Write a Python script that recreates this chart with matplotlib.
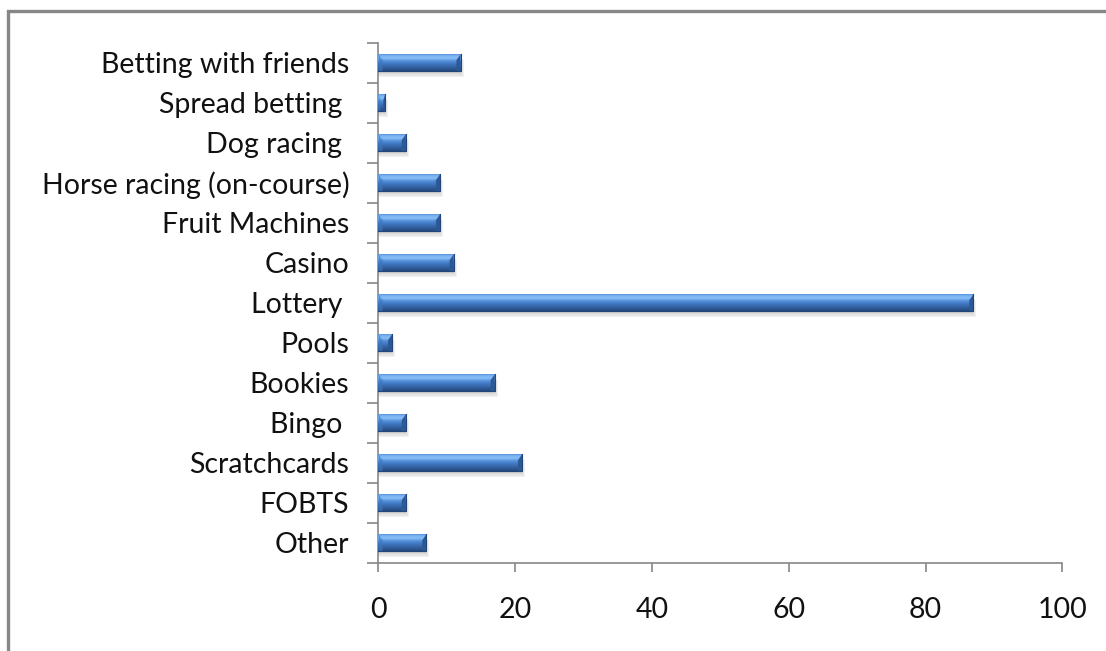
import numpy as np
import matplotlib
matplotlib.use("Agg")
import matplotlib.pyplot as plt
from matplotlib.colors import LinearSegmentedColormap
from matplotlib.patches import Rectangle, Polygon

plt.rcParams['font.family'] = ['Lato', 'DejaVu Sans']

categories = ["Betting with friends", "Spread betting ", "Dog racing ",
              "Horse racing (on-course)", "Fruit Machines", "Casino",
              "Lottery ", "Pools", "Bookies", "Bingo ", "Scratchcards",
              "FOBTS", "Other"]
values = [12, 1, 4, 9, 9, 11, 87, 2, 17, 4, 21, 4, 7]
xticks = [0, 20, 40, 60, 80, 100]

axis_grey = "#868686"
bar_h = 0.42

fig = plt.figure(figsize=(11.06, 6.51), dpi=100)
ax = fig.add_axes([0.3422, 0.1356, 0.9605 - 0.3422, 0.9344 - 0.1356])

ypos = np.arange(len(categories))

# soft drop shadow under each bar
for k in range(4):
    off = 0.04 + 0.035 * k
    ax.barh(ypos + off, np.array(values) + 0.15 * k, height=bar_h,
            color="#000000", alpha=0.05, linewidth=0, zorder=1)

bars = ax.barh(ypos, values, height=bar_h, color="#4a82cc",
               linewidth=0, zorder=2)

# vertical shading for the bevelled look
shade = LinearSegmentedColormap.from_list("bevel", [
    (0.00, "#5a94dc"), (0.10, "#7bb4f2"), (0.25, "#84bcf6"),
    (0.40, "#5590da"), (0.55, "#427bc6"), (0.75, "#3564a6"),
    (1.00, "#264a7e")])
grad = np.linspace(0, 1, 64).reshape(-1, 1)
for rect, y, v in zip(bars, ypos, values):
    img = ax.imshow(grad, cmap=shade, aspect="auto", origin="upper",
                    extent=(0, v, y + bar_h / 2, y - bar_h / 2), zorder=3)
    img.set_clip_path(rect)
    top, bot = y - bar_h / 2, y + bar_h / 2
    d = min(0.6, v * 0.3)
    bev = bar_h * 0.35
    # right-hand bevel face
    ax.add_patch(Polygon([(v - d, top + bev), (v, top), (v, bot), (v - d, bot)],
                         closed=True, color="#2c5893", lw=0, zorder=4))
    # left-hand bevel face
    ax.add_patch(Polygon([(0, top), (d, top + bev), (d, bot), (0, bot)],
                         closed=True, color="#3f76c0", alpha=0.6, lw=0, zorder=4))
    ax.plot([0, v, v], [bot, bot, top], color="#22467a", lw=0.8, zorder=5)

ax.set_xlim(0, 100)
ax.set_ylim(len(categories) - 0.5, -0.5)

ax.set_xticks(xticks)
ax.set_xticklabels([str(t) for t in xticks])
ax.set_yticks(ypos)
ax.set_yticklabels(categories)
ax.set_yticks(np.arange(len(categories) + 1) - 0.5, minor=True)

ax.tick_params(axis="y", which="major", length=0, pad=21, labelsize=20.5,
               labelcolor="#111111")
ax.tick_params(axis="y", which="minor", length=8, width=1.2, color=axis_grey,
               direction="out")
ax.tick_params(axis="x", which="major", length=6.5, width=1.2, color=axis_grey,
               direction="out", pad=18.5, labelsize=20.5, labelcolor="#111111")

for side in ("top", "right"):
    ax.spines[side].set_visible(False)
for side in ("left", "bottom"):
    ax.spines[side].set_color(axis_grey)
    ax.spines[side].set_linewidth(1.2)

# chart frame
fig.add_artist(Rectangle((7.5 / 1106, -0.2), 1.5, 1 - 10.5 / 651 + 0.2,
                         transform=fig.transFigure, fill=False,
                         edgecolor="#878787", linewidth=2.4))

fig.savefig("out.png", dpi=100)
